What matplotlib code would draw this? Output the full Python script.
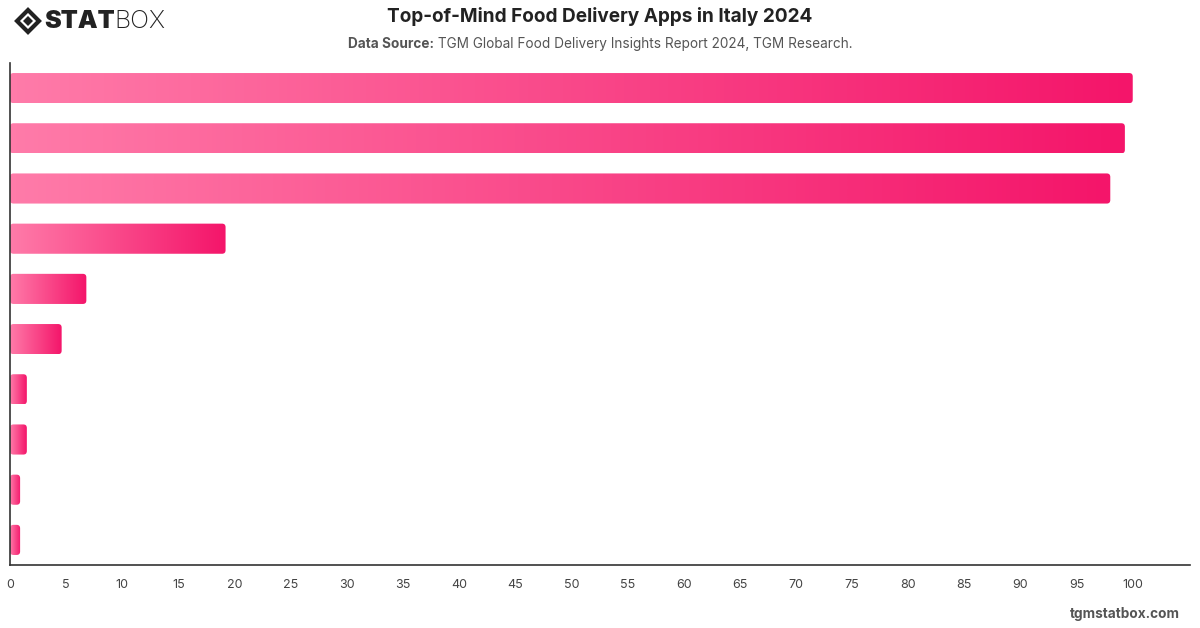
import matplotlib.pyplot as plt
import numpy as np
from matplotlib.patches import FancyBboxPatch, Polygon
from matplotlib.colors import LinearSegmentedColormap

plt.rcParams['font.family'] = ['Inter', 'DejaVu Sans']

# top to bottom, as in the picture (app names are not shown)
apps = ['App 1', 'App 2', 'App 3', 'App 4', 'App 5', 'App 6', 'App 7', 'App 8', 'App 9', 'App 10']
share = [100, 99.3, 98.0, 19.2, 6.8, 4.6, 1.5, 1.5, 0.9, 0.9]
ticks = list(range(0, 101, 5))

W, H = 1200, 628
fig = plt.figure(figsize=(W / 100, H / 100), dpi=100)
ax = fig.add_axes([10 / W, (H - 565) / H, 1180 / W, 502 / H])

xmax = 105.1
ax.set_xlim(0, xmax)
ax.set_ylim(len(apps) - 0.5, -0.5)

cmap = LinearSegmentedColormap.from_list('pink', ['#ff7ba9', '#f4156a'])
grad = np.linspace(0, 1, 256).reshape(1, -1)

px_x = 1180 / xmax
px_y = 502 / len(apps)
r = 3.5 / px_x
bh = 0.6
for i, v in enumerate(share):
    patch = FancyBboxPatch((0, i - bh / 2), v, bh,
                           boxstyle='round,pad=0,rounding_size=%f' % min(r, v / 2),
                           mutation_aspect=px_x / px_y,
                           fc='none', ec='none')
    ax.add_patch(patch)
    im = ax.imshow(grad, cmap=cmap, aspect='auto',
                   extent=[0, v, i + bh / 2, i - bh / 2], interpolation='bilinear')
    im.set_clip_path(patch)

ax.set_xlim(0, xmax)
ax.set_ylim(len(apps) - 0.5, -0.5)
ax.set_xticks(ticks)
ax.set_yticks([])
ax.tick_params(axis='x', length=0, pad=10, labelsize=9, labelcolor='#444444')
for s in ['top', 'right']:
    ax.spines[s].set_visible(False)
for s in ['left', 'bottom']:
    ax.spines[s].set_color('#333333')
    ax.spines[s].set_linewidth(1.2)

fig.text(0.5, 1 - 17 / H, 'Top-of-Mind Food Delivery Apps in Italy 2024',
         ha='center', va='center', fontsize=13.7, fontweight='bold', color='#222222')

# subtitle: bold label + regular text, centred as a whole
r_ = fig.canvas.get_renderer()
t1 = fig.text(0, 1 - 44 / H, 'Data Source:', ha='left', va='center',
              fontsize=9.8, fontweight='bold', color='#555555')
t2 = fig.text(0, 1 - 44 / H, ' TGM Global Food Delivery Insights Report 2024, TGM Research.',
              ha='left', va='center', fontsize=9.8, color='#555555')
w1 = t1.get_window_extent(r_).width
w2 = t2.get_window_extent(r_).width
x0 = (W - w1 - w2) / 2
t1.set_x(x0 / W)
t2.set_x((x0 + w1) / W)

fig.text(1180 / W, 1 - 614 / H, 'tgmstatbox.com', ha='right', va='center',
         fontsize=9.8, fontweight='bold', color='#555555')

# logo
ly = 1 - 21 / H
fig.patches.append(Polygon([[17 / W, ly], [28 / W, ly + 11 / H], [39 / W, ly], [28 / W, ly - 11 / H]],
                           closed=True, transform=fig.transFigure, fc='none', ec='#222222', lw=3))
fig.patches.append(Polygon([[23 / W, ly], [28 / W, ly + 5 / H], [33 / W, ly], [28 / W, ly - 5 / H]],
                           closed=True, transform=fig.transFigure, fc='#222222', ec='none'))
fig.text(44 / W, ly, 'STAT', ha='left', va='center', fontsize=18,
         fontweight='black', color='#222222')
fig.text(114 / W, ly, 'BOX', ha='left', va='center', fontsize=18,
         fontweight='light', color='#222222')

fig.savefig('out.png', dpi=100)
